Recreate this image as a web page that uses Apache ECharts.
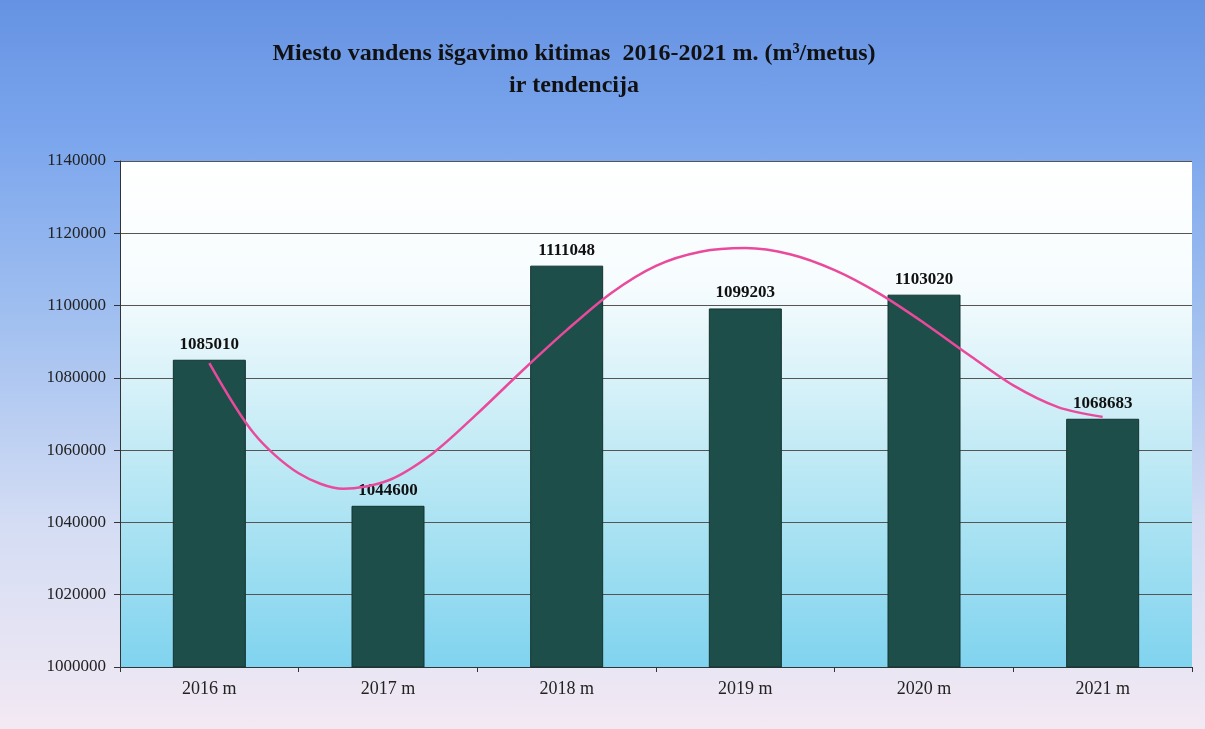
<!DOCTYPE html>
<html>
<head>
<meta charset="utf-8">
<script src="https://cdn.jsdelivr.net/npm/echarts@6/dist/echarts.min.js"></script>
<style>
  html, body { margin: 0; padding: 0; }
  body {
    width: 1205px; height: 729px; overflow: hidden;
    background: linear-gradient(to bottom, #6592e2 0%, #7aa5ed 18%, #a3c1f0 45%, #d4ddf4 72%, #f3e9f3 100%);
  }
  #chart { width: 1205px; height: 729px; }
</style>
</head>
<body>
<div id="chart"></div>
<script>
// Categories and values
const categories = ['2016 m', '2017 m', '2018 m', '2019 m', '2020 m', '2021 m'];
const values = [1085010, 1044600, 1111048, 1099203, 1103020, 1068683];
// Trend line at quarter-category positions
const trendX = [0, 0.25, 0.5, 0.75, 1, 1.25, 1.5, 1.75, 2, 2.25, 2.5, 2.75, 3, 3.25, 3.5, 3.75, 4, 4.25, 4.5, 4.75, 5];
const trendY = [1084100, 1064600, 1053600, 1049300, 1051600, 1059100, 1070100, 1081900, 1093200, 1103500, 1111000, 1114900, 1115900, 1114200, 1109800, 1103300, 1095200, 1086400, 1077900, 1071900, 1069200];
const yTicks = { min: 1000000, max: 1140000, interval: 20000 };

const serif = '"Liberation Serif", "DejaVu Serif", serif';
const chart = echarts.init(document.getElementById('chart'), null, { renderer: 'canvas' });

chart.setOption({
  backgroundColor: 'transparent',
  animation: false,
  title: {
    text: 'Miesto vandens išgavimo kitimas  2016-2021 m. (m³/metus)\nir tendencija',
    left: 569, top: 33, textAlign: 'center',
    textStyle: { fontFamily: serif, fontWeight: 'bold', fontSize: 24, color: '#111', lineHeight: 32 }
  },
  grid: {
    left: 120, right: 13, top: 161, bottom: 62,
    show: true, borderWidth: 0,
    backgroundColor: {
      type: 'linear', x: 0, y: 0, x2: 0, y2: 1,
      colorStops: [
        { offset: 0, color: '#ffffff' },
        { offset: 0.25, color: '#f6fcfe' },
        { offset: 0.5, color: '#cdeef7' },
        { offset: 0.75, color: '#a6e1f2' },
        { offset: 1, color: '#80d3ef' }
      ]
    }
  },
  xAxis: [{
    type: 'category', data: categories,
    axisLine: { lineStyle: { color: '#333', width: 1 } },
    axisTick: { show: true, length: 5, lineStyle: { color: '#333' } },
    axisLabel: { fontFamily: serif, fontSize: 18, color: '#222', margin: 13 },
    splitLine: { show: false }
  }, {
    type: 'value', min: -0.5, max: 5.5, show: false
  }],
  yAxis: {
    type: 'value', min: yTicks.min, max: yTicks.max, interval: yTicks.interval,
    axisLine: { show: true, onZero: false, lineStyle: { color: '#333', width: 1 } },
    axisTick: { show: true, length: 6, lineStyle: { color: '#333' } },
    axisLabel: { fontFamily: serif, fontSize: 17, color: '#222', margin: 14, formatter: v => String(v) },
    splitLine: { show: true, lineStyle: { color: '#555', width: 1 } }
  },
  series: [{
    type: 'bar', data: values, barWidth: 73,
    itemStyle: { color: '#1e4e4a', borderColor: '#13332f', borderWidth: 1 },
    label: {
      show: true, position: 'top', distance: 7,
      fontFamily: serif, fontWeight: 'bold', fontSize: 17, color: '#111'
    },
    z: 2
  }, {
    type: 'line', xAxisIndex: 1,
    data: trendX.map((x, i) => [x, trendY[i]]),
    smooth: 0.3, showSymbol: false, symbol: 'none',
    lineStyle: { color: '#ea4a9c', width: 2.5 },
    z: 3
  }]
});
</script>
</body>
</html>
